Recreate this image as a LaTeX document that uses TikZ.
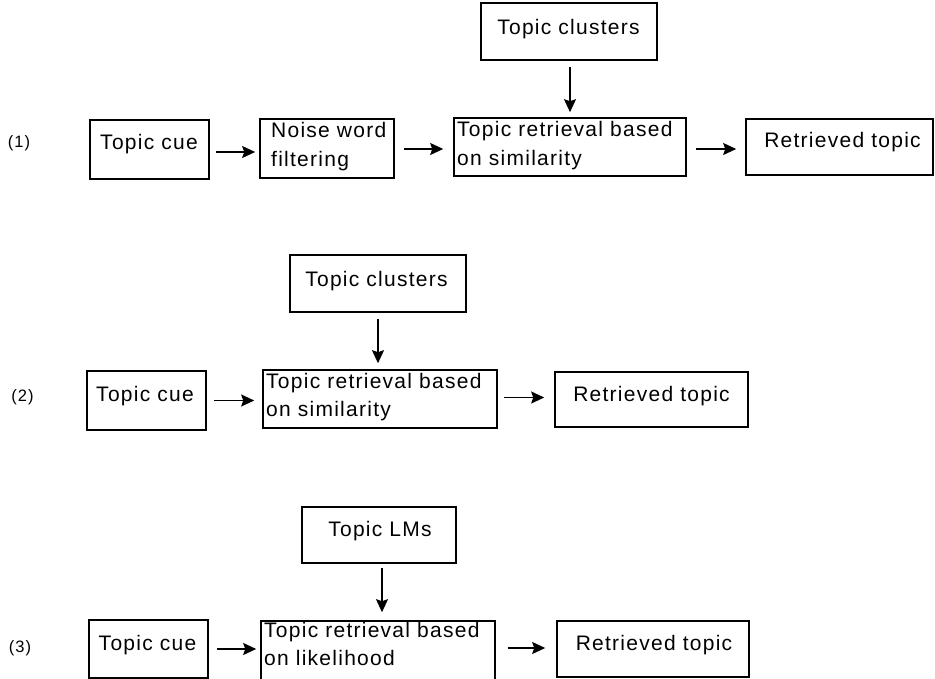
\documentclass[tikz,border=0pt]{standalone}
\usepackage{fontspec}
\setmainfont{Liberation Sans}[LetterSpace=6]
\usetikzlibrary{arrows.meta}
\begin{document}
\begin{tikzpicture}[x=1pt,y=-1pt,
  box/.style={draw, line width=1.6pt, rectangle, inner sep=0pt},
  txt/.style={inner sep=0pt, font=\fontsize{21}{24}\selectfont},
  num/.style={inner sep=0pt, font=\fontsize{16.5}{19}\selectfont},
  arr/.style={line width=1.6pt, -{Stealth[length=13pt,width=12pt,inset=2pt]}}]
\useasboundingbox (0,0) rectangle (935,679);

% ---------- Row 1 ----------
\node[num] (lab1) at (19,143) {(1)};
\node[box, minimum width=119pt, minimum height=59pt] (cue1) at (149.5,149.5) {};
\node[txt, anchor=base] (cue1t) at (149,150) {Topic cue};
\node[box, minimum width=134pt, minimum height=59pt] (noise1) at (327,148.5) {};
\node[txt, anchor=base west] (noise1a) at (271,138) {Noise word};
\node[txt, anchor=base west] (noise1b) at (271,166.5) {filtering};
\node[box, minimum width=232pt, minimum height=58pt] (ret1) at (570,147) {};
\node[txt, anchor=base west] (ret1a) at (457,137) {Topic retrieval based};
\node[txt, anchor=base west] (ret1b) at (457,165.5) {on similarity};
\node[box, minimum width=176pt, minimum height=57pt] (clu1) at (569,31.5) {};
\node[txt, anchor=base] (clu1t) at (568.5,35) {Topic clusters};
\node[box, minimum width=187pt, minimum height=56pt] (retd1) at (839.5,147) {};
\node[txt, anchor=base] (retd1t) at (842.5,148) {Retrieved topic};

\draw[arr, shorten <=6pt, shorten >=4pt] ([yshift=-2.5pt]cue1.east) -- ([yshift=-2.5pt]cue1.east -| noise1.west);
\draw[arr, shorten <=9pt, shorten >=10pt] ([yshift=-0.5pt]noise1.east) -- ([yshift=-0.5pt]noise1.east -| ret1.west);
\draw[arr, shorten <=6pt, shorten >=5pt] ([xshift=1pt]clu1.south) -- ([xshift=1pt]clu1.south |- ret1.north);
\draw[arr, shorten <=9pt, shorten >=9pt] ([yshift=-2pt]ret1.east) -- ([yshift=-2pt]ret1.east -| retd1.west);

% ---------- Row 2 ----------
\node[num] (lab2) at (22.5,397) {(2)};
\node[box, minimum width=119pt, minimum height=59pt] (cue2) at (146.5,400.5) {};
\node[txt, anchor=base] (cue2t) at (145,401) {Topic cue};
\node[box, minimum width=234pt, minimum height=58pt] (ret2) at (380,399) {};
\node[txt, anchor=base west] (ret2a) at (266,388) {Topic retrieval based};
\node[txt, anchor=base west] (ret2b) at (266,416.5) {on similarity};
\node[box, minimum width=176pt, minimum height=57pt] (clu2) at (378,283.5) {};
\node[txt, anchor=base] (clu2t) at (376.5,287) {Topic clusters};
\node[box, minimum width=193pt, minimum height=55pt] (retd2) at (651.5,399.5) {};
\node[txt, anchor=base] (retd2t) at (651.5,401) {Retrieved topic};

\draw[arr, shorten <=7pt, shorten >=8pt] (cue2.east) -- (cue2.east -| ret2.west);
\draw[arr, shorten <=6pt, shorten >=6pt] (clu2.south) -- (clu2.south |- ret2.north);
\draw[arr, shorten <=6pt, shorten >=10pt] ([yshift=1.5pt]ret2.east) -- ([yshift=1.5pt]ret2.east -| retd2.west);

% ---------- Row 3 ----------
\node[num] (lab3) at (20,648) {(3)};
\node[box, minimum width=119pt, minimum height=58pt] (cue3) at (148.5,649) {};
\node[txt, anchor=base] (cue3t) at (147.5,650) {Topic cue};
\node[box, minimum width=234pt, minimum height=59pt] (ret3) at (378,650.5) {};
\node[txt, anchor=base west] (ret3a) at (264,637) {Topic retrieval based};
\node[txt, anchor=base west] (ret3b) at (264,665.5) {on likelihood};
\node[box, minimum width=154pt, minimum height=56pt] (lms3) at (379,535) {};
\node[txt, anchor=base] (lms3t) at (380,536) {Topic LMs};
\node[box, minimum width=192pt, minimum height=56pt] (retd3) at (653,649) {};
\node[txt, anchor=base] (retd3t) at (654,650) {Retrieved topic};

\draw[arr, shorten <=8pt, shorten >=4pt] (cue3.east) -- (cue3.east -| ret3.west);
\draw[arr, shorten <=4pt, shorten >=8pt] ([xshift=3pt]lms3.south) -- ([xshift=3pt]lms3.south |- ret3.north);
\draw[arr, shorten <=12pt, shorten >=11pt] ([yshift=2.5pt]ret3.east) -- ([yshift=2.5pt]ret3.east -| retd3.west);
\end{tikzpicture}
\end{document}
